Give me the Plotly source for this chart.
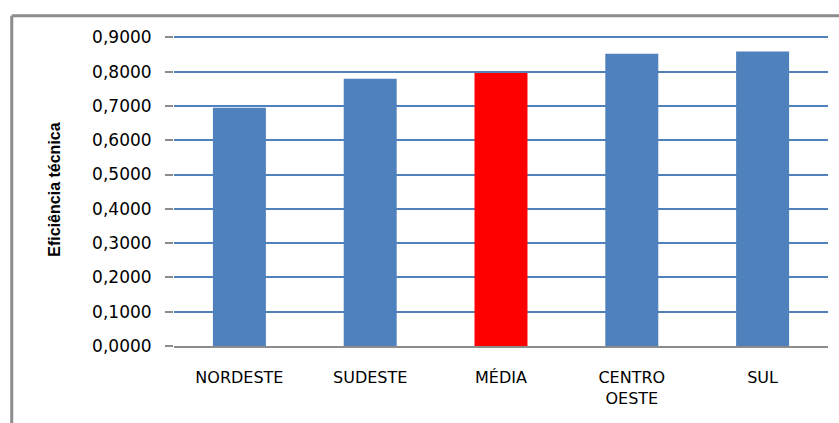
import plotly.graph_objects as go

# Eficiência técnica por região
regioes = ["NORDESTE", "SUDESTE", "MÉDIA", "CENTRO<br>OESTE", "SUL"]
eficiencia = [0.6950, 0.7795, 0.7960, 0.8525, 0.8585]
cores = ["#4F81BD", "#4F81BD", "#FF0000", "#4F81BD", "#4F81BD"]

tick_vals = [0.0, 0.1, 0.2, 0.3, 0.4, 0.5, 0.6, 0.7, 0.8, 0.9]
tick_text = ["0,0000", "0,1000", "0,2000", "0,3000", "0,4000",
             "0,5000", "0,6000", "0,7000", "0,8000", "0,9000"]

Y_MAX = 0.904

W, H = 839, 423
ML, MR, MB = 173.5, 10.5, 77.3
# topo escolhido para que 0,9 fique em y = 37.7 px
PH = (H - MB - 37.7) * Y_MAX / 0.9
MT = H - MB - PH
PW = W - ML - MR


def px(x):
    return (x - ML) / PW


def py(y):
    return (H - MB - y) / PH


fig = go.Figure(
    go.Bar(
        x=regioes,
        y=eficiencia,
        marker=dict(color=cores, line=dict(width=0)),
        width=0.405,
    )
)

grey = "#8C8C8C"
fig.update_layout(
    width=W,
    height=H,
    margin=dict(l=ML, r=MR, t=MT, b=MB, pad=0),
    paper_bgcolor="white",
    plot_bgcolor="white",
    showlegend=False,
    font=dict(family="DejaVu Sans", color="black"),
    xaxis=dict(
        showgrid=False,
        showline=True,
        linecolor=grey,
        linewidth=2,
        ticks="",
        tickfont=dict(size=16, family="DejaVu Sans", color="black"),
        ticklabelstandoff=16,
    ),
    yaxis=dict(
        range=[0, Y_MAX],
        tickvals=tick_vals,
        ticktext=tick_text,
        showgrid=True,
        gridcolor="#4F81BD",
        gridwidth=2,
        zeroline=False,
        showline=False,
        ticks="outside",
        ticklen=8,
        tickwidth=2,
        tickcolor=grey,
        tickfont=dict(size=17, family="DejaVu Sans", color="black"),
        ticklabelstandoff=10,
    ),
    annotations=[
        dict(
            text="<b>Eficiência técnica</b>",
            xref="paper", yref="paper",
            x=px(54), y=py(190),
            textangle=-90,
            showarrow=False,
            font=dict(size=16, family="Liberation Sans", color="black"),
            xanchor="center", yanchor="middle",
        )
    ],
    shapes=[
        # moldura do gráfico (topo e lado esquerdo)
        dict(type="line", xref="paper", yref="paper",
             x0=px(11), x1=px(W + 5), y0=py(16), y1=py(16),
             line=dict(color=grey, width=3)),
        dict(type="line", xref="paper", yref="paper",
             x0=px(11), x1=px(11), y0=py(16), y1=py(H + 5),
             line=dict(color=grey, width=3)),
    ],
)

fig.write_html("out.html")
